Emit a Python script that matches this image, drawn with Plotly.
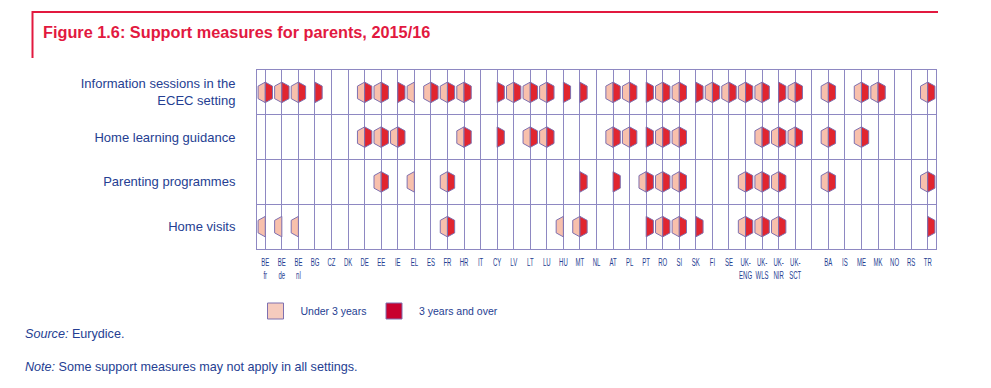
import plotly.graph_objects as go

# ---------------- data ----------------
countries = ["BE<br>fr", "BE<br>de", "BE<br>nl", "BG", "CZ", "DK", "DE", "EE", "IE", "EL",
             "ES", "FR", "HR", "IT", "CY", "LV", "LT", "LU", "HU", "MT", "NL", "AT", "PL",
             "PT", "RO", "SI", "SK", "FI", "SE", "UK-<br>ENG", "UK-<br>WLS", "UK-<br>NIR",
             "UK-<br>SCT", "", "BA", "IS", "ME", "MK", "NO", "RS", "TR"]

measures = ["Information sessions in the<br>ECEC setting", "Home learning guidance",
            "Parenting programmes", "Home visits"]

# B = both age groups, U = under 3 years only, O = 3 years and over only, - = none
info_sessions = ["B", "B", "B", "O", "-", "-", "B", "B", "O", "U", "B", "B", "B", "-", "O",
                 "B", "B", "B", "O", "O", "-", "B", "B", "O", "B", "B", "O", "B", "B", "B",
                 "B", "O", "B", "-", "B", "-", "B", "B", "-", "-", "B"]
home_learning = ["-", "-", "-", "-", "-", "-", "B", "B", "B", "-", "-", "-", "B", "-", "O",
                 "-", "B", "B", "-", "-", "-", "B", "B", "O", "B", "B", "-", "-", "-", "-",
                 "B", "B", "B", "-", "B", "-", "B", "-", "-", "-", "-"]
parenting = ["-", "-", "-", "-", "-", "-", "-", "B", "-", "U", "-", "B", "-", "-", "-",
             "-", "-", "-", "-", "O", "-", "O", "-", "B", "B", "B", "-", "-", "-", "B",
             "B", "B", "-", "-", "B", "-", "-", "-", "-", "-", "B"]
home_visits = ["U", "U", "U", "-", "-", "-", "-", "-", "-", "-", "-", "B", "-", "-", "-",
               "-", "-", "-", "U", "B", "-", "-", "-", "O", "B", "B", "O", "-", "-", "B",
               "B", "B", "-", "-", "-", "-", "-", "-", "-", "-", "O"]

rows = [info_sessions, home_learning, parenting, home_visits]
legend_names = ["Under 3 years", "3 years and over"]

# ---------------- style ----------------
W = 0.435   # half width of hexagon (x units)
T = 0.229   # half height to top point (row units)
S = 0.14    # half height of vertical side (row units)
LIGHT = "#F8C0AC"
RED = "#E1252F"
OUTLINE = "#7E70B0"
GRID = "#8E88C2"
TEXT = "#253E92"
TITLE_RED = "#E2193F"

FIG_W, FIG_H = 991, 388
ML, MR, MT, MB = 257, 55, 70, 139
PW = FIG_W - ML - MR
PH = FIG_H - MT - MB


def px_x(px):
    return (px - ML) / PW


def px_y(py):
    return (FIG_H - MB - py) / PH


def half_hex(codes, side):
    xs, ys = [], []
    want = ("B", "U") if side < 0 else ("B", "O")
    for r, row in enumerate(codes):
        cy = r + 0.5
        for i, c in enumerate(row):
            if c in want:
                xs += [i, i + side * W, i + side * W, i, i, None]
                ys += [cy - T, cy - S, cy + S, cy + T, cy - T, None]
    return xs, ys


fig = go.Figure()
for side, col in ((-1, LIGHT), (1, RED)):
    xs, ys = half_hex(rows, side)
    fig.add_trace(go.Scatter(x=xs, y=ys, mode="lines", fill="toself", fillcolor=col,
                             line=dict(color=OUTLINE, width=1), hoverinfo="skip",
                             showlegend=False))

for name, col, lg in zip(legend_names, ["#F6CBBE", "#C8002E"], ["legend", "legend2"]):
    fig.add_trace(go.Scatter(x=[None], y=[None], mode="markers", name=name, legend=lg,
                             marker=dict(symbol="square", size=16, color=col,
                                         line=dict(color=OUTLINE, width=1))))

legend_common = dict(orientation="h", xanchor="left", y=px_y(311), yanchor="middle",
                     font=dict(size=10.5, color=TEXT), itemwidth=40,
                     bgcolor="rgba(0,0,0,0)")

fig.update_layout(
    width=FIG_W, height=FIG_H,
    margin=dict(l=ML, r=MR, t=MT, b=MB, autoexpand=False),
    paper_bgcolor="white", plot_bgcolor="white",
    font=dict(family="Liberation Sans, Arial, sans-serif", size=13, color=TEXT),
    title=dict(text="<b>Figure 1.6: Support measures for parents, 2015/16</b>",
               x=43 / FIG_W, xanchor="left", y=1 - 32 / FIG_H, yanchor="middle",
               font=dict(family="Liberation Sans, Arial, sans-serif", size=16.3,
                         color=TITLE_RED)),
    legend=dict(x=px_x(250.5), **legend_common),
    legend2=dict(x=px_x(369), **legend_common),
    showlegend=True,
)

fig.update_xaxes(range=[-0.5, len(countries) - 0.5], tickmode="array",
                 tickvals=list(range(len(countries))), ticktext=countries,
                 tickangle=0,
                 showgrid=True, gridcolor=GRID, gridwidth=1, zeroline=False,
                 showline=True, linecolor=GRID, linewidth=1, mirror=True,
                 ticks="", ticklabelstandoff=4, fixedrange=True,
                 tickfont=dict(family="Liberation Sans, Arial, sans-serif",
                               size=10, color=TEXT))
fig.update_yaxes(range=[len(measures), 0], tickmode="array",
                 tickvals=[i + 0.5 for i in range(len(measures))], ticktext=measures,
                 showgrid=False, zeroline=False, showline=True, linecolor=GRID,
                 linewidth=1, mirror=True, ticks="", ticklabelstandoff=18,
                 minor=dict(tickvals=list(range(1, len(measures))), showgrid=True,
                            gridcolor=GRID, gridwidth=1, ticks=""),
                 tickfont=dict(size=13, color=TEXT), fixedrange=True)

# red frame around the title
fig.add_shape(type="line", xref="paper", yref="paper", x0=px_x(32.5), x1=px_x(938),
              y0=px_y(12), y1=px_y(12), line=dict(color=TITLE_RED, width=2))
fig.add_shape(type="line", xref="paper", yref="paper", x0=px_x(32.5), x1=px_x(32.5),
              y0=px_y(11), y1=px_y(58), line=dict(color=TITLE_RED, width=2))

fig.add_annotation(xref="paper", yref="paper", x=px_x(23), y=px_y(334), xanchor="left",
                   yanchor="middle", showarrow=False, align="left",
                   text="<i>Source:</i> Eurydice.", font=dict(size=12.6, color=TEXT))
fig.add_annotation(xref="paper", yref="paper", x=px_x(23), y=px_y(367), xanchor="left",
                   yanchor="middle", showarrow=False, align="left",
                   text="<i>Note:</i> Some support measures may not apply in all settings.",
                   font=dict(size=12.6, color=TEXT))

# remove default page margin and give the condensed look of the original axis labels
post = """
document.body.style.margin='0';
function condense(sel, f){
  document.querySelectorAll(sel).forEach(function(t){
    var parts = t.querySelectorAll('tspan.line');
    var els = parts.length ? Array.prototype.slice.call(parts) : [t];
    els.forEach(function(e){
      if (e.getAttribute('data-cond')) return;
      var L = e.getComputedTextLength();
      if (L > 0) {
        e.setAttribute('textLength', (L * f).toFixed(2));
        e.setAttribute('lengthAdjust', 'spacingAndGlyphs');
        e.setAttribute('data-cond', '1');
      }
    });
  });
}
condense('.xtick text', 0.6);
"""
fig.write_html("out.html", post_script=post, config={"displayModeBar": False})
